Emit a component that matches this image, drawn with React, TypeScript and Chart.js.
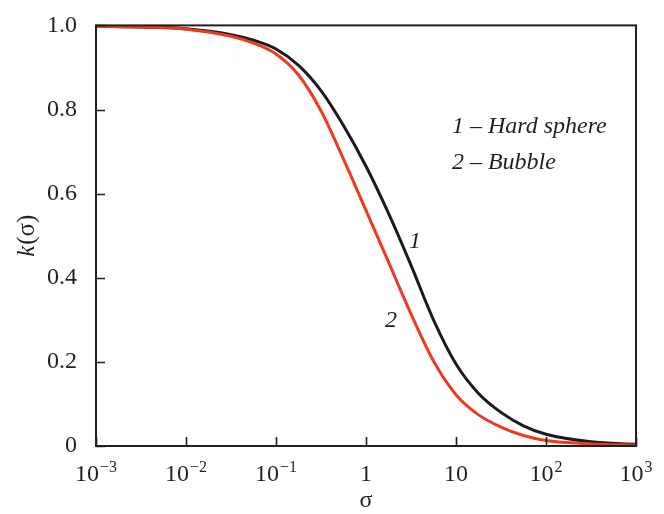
import React, { useEffect, useRef } from 'react';
import { Chart, registerables } from 'chart.js';

Chart.register(...registerables);

// Curve 1 – Hard sphere
const sigmaHard = [0.001, 0.00316, 0.01, 0.0316, 0.0562, 0.1, 0.178, 0.316, 0.562, 1.0, 1.78, 3.16, 5.62, 10, 17.8, 31.6, 56.2, 100, 316, 1000];
const kHard = [0.998, 0.996, 0.992, 0.978, 0.965, 0.944, 0.905, 0.845, 0.762, 0.665, 0.553, 0.43, 0.3, 0.195, 0.125, 0.08, 0.048, 0.028, 0.01, 0.004];

// Curve 2 – Bubble
const sigmaBubble = [0.001, 0.00316, 0.01, 0.0316, 0.0562, 0.1, 0.178, 0.316, 0.562, 1.0, 1.78, 3.16, 5.62, 10, 17.8, 31.6, 56.2, 100, 316, 1000];
const kBubble = [0.998, 0.996, 0.991, 0.974, 0.958, 0.932, 0.882, 0.797, 0.682, 0.56, 0.437, 0.314, 0.202, 0.122, 0.074, 0.045, 0.025, 0.013, 0.005, 0.002];

const xTickValues = [0.001, 0.01, 0.1, 1, 10, 100, 1000];
const xTickBase = ['10', '10', '10', '1', '10', '10', '10'];
const xTickExp = ['\u22123', '\u22122', '\u22121', '', '', '2', '3'];
const yTickValues = [0, 0.2, 0.4, 0.6, 0.8, 1.0];

const legendLines = ['1 \u2013 Hard sphere', '2 \u2013 Bubble'];
const legendAnchorSigma = 9.0;
const legendAnchorK = [0.743, 0.659];
const curveLabels = ['1', '2'];
const curveLabelSigma = [3.5, 1.9];
const curveLabelK = [0.486, 0.299];

const FONT = '"Liberation Serif", "Times New Roman", serif';
const INK = '#231f20';
const BLACK = '#1c1a1b';
const RED = '#ee3b1f';
const FS = 24;
const FS_SUP = 16;

const decor = {
  id: 'decor',
  afterDatasetsDraw(chart: any) {
    const { ctx, chartArea: a, scales } = chart;
    const x = scales.x;
    const y = scales.y;
    ctx.save();
    // frame
    ctx.strokeStyle = INK;
    ctx.lineWidth = 2;
    ctx.strokeRect(a.left, a.top, a.right - a.left, a.bottom - a.top);
    // inward ticks
    ctx.lineWidth = 1.6;
    const tl = 9;
    ctx.beginPath();
    xTickValues.forEach((v) => {
      const px = Math.round(x.getPixelForValue(v)) + 0.5;
      ctx.moveTo(px, a.bottom);
      ctx.lineTo(px, a.bottom - tl);
    });
    yTickValues.forEach((v) => {
      const py = Math.round(y.getPixelForValue(v)) + 0.5;
      ctx.moveTo(a.left, py);
      ctx.lineTo(a.left + tl, py);
    });
    ctx.stroke();

    // x tick labels with superscripts
    ctx.fillStyle = INK;
    ctx.textBaseline = 'alphabetic';
    ctx.textAlign = 'left';
    const baseY = a.bottom + 35;
    xTickValues.forEach((v, i) => {
      const px = x.getPixelForValue(v);
      ctx.font = `${FS}px ${FONT}`;
      const wb = ctx.measureText(xTickBase[i]).width;
      ctx.font = `${FS_SUP}px ${FONT}`;
      const we = xTickExp[i] ? ctx.measureText(xTickExp[i]).width + 1 : 0;
      const start = px - (wb + we) / 2;
      ctx.font = `${FS}px ${FONT}`;
      ctx.fillText(xTickBase[i], start, baseY);
      if (xTickExp[i]) {
        ctx.font = `${FS_SUP}px ${FONT}`;
        ctx.fillText(xTickExp[i], start + wb + 1, baseY - 9);
      }
    });

    // x title
    ctx.font = `${FS}px ${FONT}`;
    ctx.textAlign = 'center';
    ctx.textBaseline = 'middle';
    ctx.fillText('\u03c3', (a.left + a.right) / 2, a.bottom + 55);

    // y title k(σ)
    ctx.save();
    ctx.translate(27, (a.top + a.bottom) / 2);
    ctx.rotate(-Math.PI / 2);
    ctx.textAlign = 'left';
    ctx.font = `italic ${FS + 1}px ${FONT}`;
    const wk = ctx.measureText('k').width;
    ctx.font = `${FS + 1}px ${FONT}`;
    const wr = ctx.measureText('(\u03c3)').width;
    const s0 = -(wk + wr + 1) / 2;
    ctx.font = `italic ${FS + 1}px ${FONT}`;
    ctx.fillText('k', s0, 0);
    ctx.font = `${FS + 1}px ${FONT}`;
    ctx.fillText('(\u03c3)', s0 + wk + 1, 0);
    ctx.restore();

    // legend text
    ctx.font = `italic ${FS}px ${FONT}`;
    ctx.textAlign = 'left';
    ctx.textBaseline = 'alphabetic';
    legendLines.forEach((t, i) => {
      ctx.fillText(t, x.getPixelForValue(legendAnchorSigma), y.getPixelForValue(legendAnchorK[i]));
    });

    // curve labels
    ctx.textAlign = 'center';
    ctx.textBaseline = 'middle';
    curveLabels.forEach((t, i) => {
      ctx.fillText(t, x.getPixelForValue(curveLabelSigma[i]), y.getPixelForValue(curveLabelK[i]));
    });
    ctx.restore();
  },
};

export default function App() {
  const ref = useRef<HTMLCanvasElement>(null);
  useEffect(() => {
    if (!ref.current) return;
    const chart = new Chart(ref.current, {
      type: 'line',
      data: {
        datasets: [
          {
            label: 'Hard sphere',
            data: sigmaHard.map((s, i) => ({ x: s, y: kHard[i] })),
            borderColor: BLACK,
            borderWidth: 3,
            pointRadius: 0,
            cubicInterpolationMode: 'monotone',
            fill: false,
            order: 1,
          },
          {
            label: 'Bubble',
            data: sigmaBubble.map((s, i) => ({ x: s, y: kBubble[i] })),
            borderColor: RED,
            borderWidth: 3,
            pointRadius: 0,
            cubicInterpolationMode: 'monotone',
            fill: false,
            order: 0,
          },
        ],
      },
      options: {
        animation: false,
        responsive: false,
        maintainAspectRatio: false,
        layout: { padding: { top: 18, right: 28, left: 0, bottom: 0 } },
        plugins: { legend: { display: false }, tooltip: { enabled: false } },
        scales: {
          x: {
            type: 'logarithmic',
            min: 0.001,
            max: 1000,
            grid: { display: false },
            border: { display: false },
            ticks: { display: false },
            afterFit: (s: any) => {
              s.height = 68;
            },
          },
          y: {
            type: 'linear',
            min: 0,
            max: 1,
            grid: { display: false },
            border: { display: false },
            ticks: {
              stepSize: 0.2,
              padding: 11,
              color: INK,
              font: { family: FONT, size: FS },
              callback: (v: any) => (Number(v) === 0 ? '0' : Number(v).toFixed(1)),
            },
            afterFit: (s: any) => {
              s.width = 96;
            },
          },
        },
      } as any,
      plugins: [decor],
    });
    return () => chart.destroy();
  }, []);
  return (
    <div style={{ position: 'absolute', left: 0, top: 0, width: 664, height: 514, background: '#fff' }}>
      <canvas ref={ref} width={664} height={514} style={{ width: 664, height: 514 }} />
    </div>
  );
}
